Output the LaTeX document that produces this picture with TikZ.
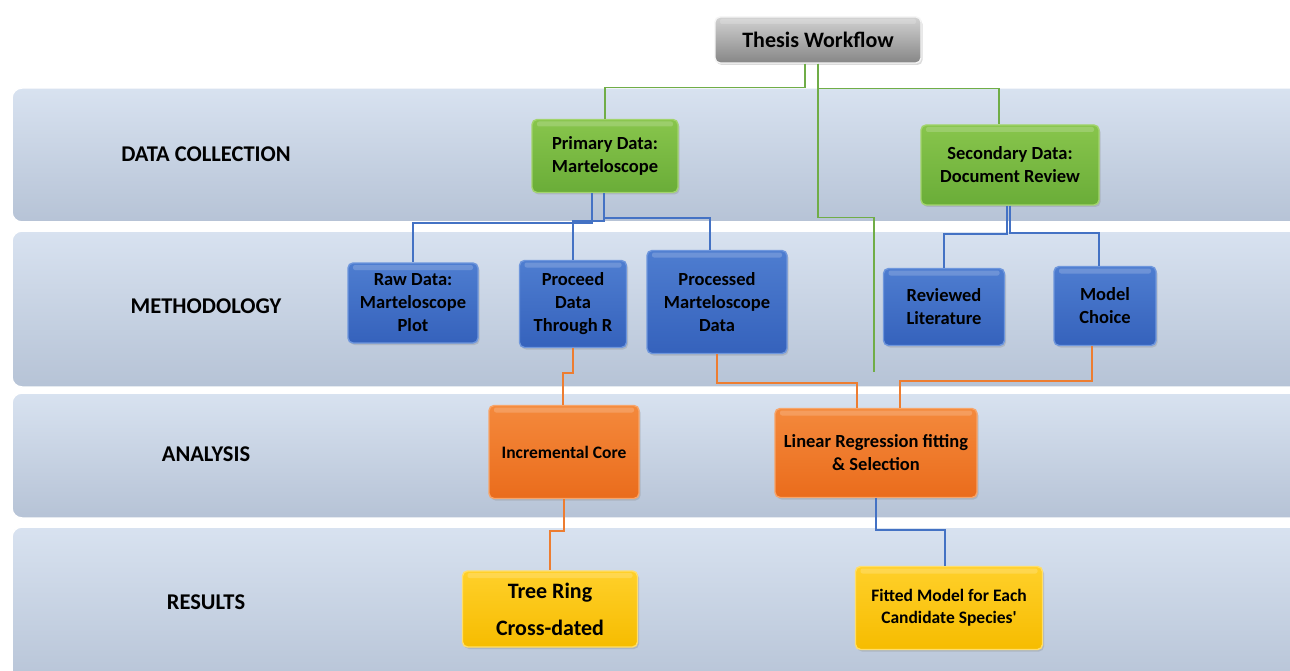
\documentclass[tikz,border=0pt]{standalone}
\usepackage{fontspec}
\setmainfont{Carlito}[Ligatures=TeXOff]
\usetikzlibrary{shadows}

\definecolor{bandtop}{HTML}{D8E2F0}
\definecolor{bandbot}{HTML}{B6C3D6}
\definecolor{lgreen}{HTML}{70AD47}
\definecolor{lblue}{HTML}{4472C4}
\definecolor{lorange}{HTML}{ED7D31}
\definecolor{greentop}{HTML}{88C54C}
\definecolor{greenbot}{HTML}{6AAD38}
\definecolor{greenedge}{HTML}{A2D46C}
\definecolor{bluetop}{HTML}{4E7DD0}
\definecolor{bluebot}{HTML}{3562BC}
\definecolor{blueedge}{HTML}{6E96DC}
\definecolor{orangetop}{HTML}{F4893C}
\definecolor{orangebot}{HTML}{EA6C1C}
\definecolor{orangeedge}{HTML}{F7A56A}
\definecolor{yellowtop}{HTML}{FFD02A}
\definecolor{yellowbot}{HTML}{F6BC00}
\definecolor{yellowedge}{HTML}{FFDE6A}
\definecolor{graytop}{HTML}{D2D2D2}
\definecolor{graybot}{HTML}{868686}

\tikzset{
  band/.style={rounded corners=10pt, top color=bandtop, bottom color=bandbot, draw=white, line width=1.5pt},
  lanelabel/.style={font=\fontsize{22.5}{26}\selectfont\bfseries, text=black},
  glossy/.style={rounded corners=5pt, line width=1.4pt, align=center, inner sep=2pt,
    font=\fontsize{18.5}{23}\selectfont\bfseries, text=black,
    drop shadow={shadow xshift=1.5pt, shadow yshift=-2pt, opacity=0.28},
    path picture={\fill[white,opacity=0.18,rounded corners=2pt]
      ([xshift=5pt,yshift=-2pt]path picture bounding box.north west) rectangle
      ([xshift=-5pt,yshift=-7pt]path picture bounding box.north east);}},
  graybox/.style={glossy, top color=graytop, bottom color=graybot, draw=white!92!gray, font=\fontsize{22}{26}\selectfont\bfseries},
  greenbox/.style={glossy, top color=greentop, bottom color=greenbot, draw=greenedge},
  bluebox/.style={glossy, top color=bluetop, bottom color=bluebot, draw=blueedge},
  orangebox/.style={glossy, top color=orangetop, bottom color=orangebot, draw=orangeedge},
  yellowbox/.style={glossy, top color=yellowtop, bottom color=yellowbot, draw=yellowedge},
  gline/.style={draw=lgreen, line width=1.6pt},
  bline/.style={draw=lblue, line width=1.6pt},
  oline/.style={draw=lorange, line width=1.6pt},
}

\begin{document}
\begin{tikzpicture}[x=1pt,y=-1pt]
\useasboundingbox (0,0) rectangle (1290,671);
\clip (0,0) rectangle (1290,671);
\fill[white] (0,0) rectangle (1290,671);

% swim lanes
\filldraw[band] (12,88) rectangle (1310,222);
\filldraw[band] (12,231) rectangle (1310,387);
\filldraw[band] (12,393) rectangle (1310,518);
\filldraw[band] (12,527) rectangle (1310,690);

\node[lanelabel] (lDC) at (206,154) {DATA COLLECTION};
\node[lanelabel] (lME) at (206,306) {METHODOLOGY};
\node[lanelabel] (lAN) at (206,454) {ANALYSIS};
\node[lanelabel] (lRE) at (206,602) {RESULTS};

% boxes
\node[graybox, minimum width=206pt, minimum height=46pt] (thesis) at (818,40) {Thesis Workflow};

\node[greenbox, minimum width=146pt, minimum height=73pt] (primary) at (605,156) {Primary Data:\\Marteloscope};
\node[greenbox, minimum width=178pt, minimum height=80pt] (secondary) at (1010,165) {Secondary Data:\\Document Review};

\node[bluebox, minimum width=130pt, minimum height=80pt] (raw) at (413,303) {Raw Data:\\Marteloscope\\Plot};
\node[bluebox, minimum width=107pt, minimum height=87pt] (proceed) at (573,304) {Proceed\\Data\\Through R};
\node[bluebox, minimum width=140pt, minimum height=103pt] (processed) at (717,302) {Processed\\Marteloscope\\Data};
\node[bluebox, minimum width=121pt, minimum height=77pt] (reviewed) at (944,307) {Reviewed\\Literature};
\node[bluebox, minimum width=102pt, minimum height=79pt] (model) at (1105,306) {Model\\Choice};

\node[orangebox, minimum width=150pt, minimum height=93pt, font=\fontsize{17.5}{22}\selectfont\bfseries] (incr) at (564,452) {Incremental Core};
\node[orangebox, minimum width=202pt, minimum height=89pt] (linear) at (876,453) {Linear Regression fitting\\\& Selection};

\node[yellowbox, minimum width=175pt, minimum height=76pt, font=\fontsize{22}{37}\selectfont\bfseries] (tree) at (550,609) {Tree Ring\\Cross-dated};
\node[yellowbox, minimum width=187pt, minimum height=83pt, font=\fontsize{17.5}{22}\selectfont\bfseries] (fitted) at (949,608) {Fitted Model for Each\\Candidate Species'};

% connectors from the workflow root
\coordinate (gend) at (874,372);
\draw[gline] ([xshift=-13pt]thesis.south) -- ++(0,24) -| (primary.north);
\draw[gline] (thesis.south) -- ++(0,25) -| ([xshift=-11pt]secondary.north);
\draw[gline] (thesis.south) -- ++(0,154) -| (gend);

% primary data branches
\draw[bline] ([xshift=-13pt]primary.south) -- ++(0,30) -| (raw.north);
\draw[bline] ([xshift=-1pt]primary.south) -- ++(0,28) -| (proceed.north);
\draw[bline] ([xshift=-1pt]primary.south) -- ++(0,25) -| ([xshift=-7pt]processed.north);

% secondary data branches
\draw[bline] ([xshift=-3pt]secondary.south) -- ++(0,28) -| (reviewed.north);
\draw[bline] (secondary.south) -- ++(0,27) -| ([xshift=-6pt]model.north);

% into analysis
\draw[oline] (proceed.south) -- ++(0,25) -| ([xshift=-1pt]incr.north);
\draw[oline] (processed.south) -- ++(0,29) -| ([xshift=-19pt]linear.north);
\draw[oline] ([xshift=-13pt]model.south) -- ++(0,35) -| ([xshift=24pt]linear.north);

% into results
\draw[oline] (incr.south) -- ++(0,32) -| (tree.north);
\draw[bline] (linear.south) -- ++(0,32) -| ([xshift=-4pt]fitted.north);
\end{tikzpicture}
\end{document}
